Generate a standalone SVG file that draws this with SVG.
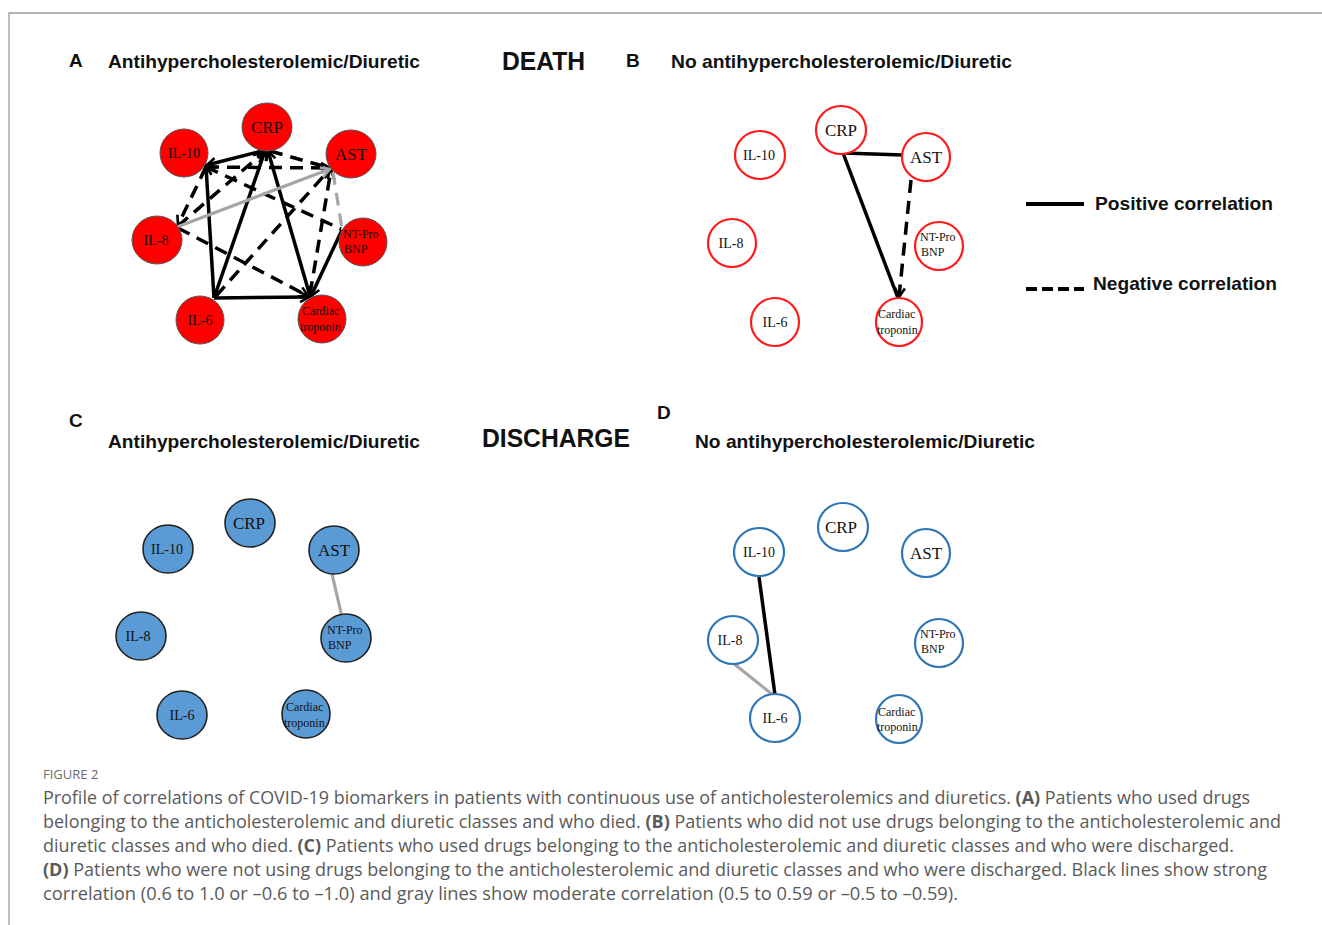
<svg xmlns="http://www.w3.org/2000/svg" width="1322" height="925" viewBox="0 0 1322 925">
<style>
.hd{font-family:"Liberation Sans",Arial,sans-serif;font-weight:bold;fill:#111}
.lbl{font-family:"Liberation Serif","Times New Roman",serif;fill:#111}
.red{fill:#ff0000;stroke:#555;stroke-width:1}
.redo{fill:#fff;stroke:#ff1a1a;stroke-width:2.2}
.blu{fill:#5b9bd5;stroke:#222;stroke-width:1.6}
.bluo{fill:#fff;stroke:#2e75b6;stroke-width:2.2}
.s{stroke:#000;stroke-width:3.5;fill:none}
.d{stroke:#000;stroke-width:3.5;fill:none;stroke-dasharray:13 8}
.g{stroke:#a6a6a6;stroke-width:3.2;fill:none}
.gd{stroke:#a6a6a6;stroke-width:3.2;fill:none;stroke-dasharray:13 8}
.cap{font-family:"Open Sans","Noto Sans",sans-serif;fill:#5a5a5a;font-size:17.5px}
.fig{font-family:"Open Sans","Noto Sans",sans-serif;fill:#6a6a6a;font-size:13px}
</style>
<defs>
<marker id="ak" markerUnits="userSpaceOnUse" markerWidth="14" markerHeight="14" refX="10" refY="6" orient="auto"><path d="M1,1 L10,6 L1,11" fill="none" stroke="#000" stroke-width="2.6"/></marker>
<marker id="ag" markerUnits="userSpaceOnUse" markerWidth="14" markerHeight="14" refX="10" refY="6" orient="auto"><path d="M1,1 L10,6 L1,11" fill="none" stroke="#a6a6a6" stroke-width="2.6"/></marker>
</defs>
<rect width="1322" height="925" fill="#fff"/>
<path d="M9,925 V13 H1322" fill="none" stroke="#9a9a9a" stroke-width="1.3"/>

<g id="titles">
<text class="hd" x="69" y="67" font-size="19">A</text>
<text class="hd" x="108" y="68" font-size="19" textLength="312" lengthAdjust="spacingAndGlyphs">Antihypercholesterolemic/Diuretic</text>
<text class="hd" x="502" y="70" font-size="25" textLength="83" lengthAdjust="spacingAndGlyphs">DEATH</text>
<text class="hd" x="626" y="67" font-size="19">B</text>
<text class="hd" x="671" y="68" font-size="19" textLength="341" lengthAdjust="spacingAndGlyphs">No antihypercholesterolemic/Diuretic</text>
<text class="hd" x="69" y="427" font-size="19">C</text>
<text class="hd" x="108" y="448" font-size="19" textLength="312" lengthAdjust="spacingAndGlyphs">Antihypercholesterolemic/Diuretic</text>
<text class="hd" x="482" y="447" font-size="25" textLength="148" lengthAdjust="spacingAndGlyphs">DISCHARGE</text>
<text class="hd" x="657" y="419" font-size="19">D</text>
<text class="hd" x="695" y="448" font-size="19" textLength="340" lengthAdjust="spacingAndGlyphs">No antihypercholesterolemic/Diuretic</text>
</g>

<g id="legend">
<line x1="1026" y1="204" x2="1084" y2="204" stroke="#000" stroke-width="4"/>
<text class="hd" x="1095" y="210" font-size="18.5" textLength="178" lengthAdjust="spacingAndGlyphs">Positive correlation</text>
<line x1="1026" y1="289" x2="1084" y2="289" stroke="#000" stroke-width="4" stroke-dasharray="11 5"/>
<text class="hd" x="1093" y="290" font-size="18.5" textLength="184" lengthAdjust="spacingAndGlyphs">Negative correlation</text>
</g>

<g id="connectors">
<!-- Panel A -->
<line class="s" x1="266" y1="150" x2="207" y2="165" marker-end="url(#ak)"/>
<line class="s" x1="214" y1="298" x2="206" y2="166" marker-end="url(#ak)"/>
<line class="s" x1="214" y1="298" x2="265" y2="151" marker-end="url(#ak)"/>
<line class="s" x1="214" y1="298" x2="309" y2="297" marker-end="url(#ak)"/>
<line class="s" x1="310" y1="296" x2="268" y2="151" marker-end="url(#ak)"/>
<line class="s" x1="342" y1="230" x2="311" y2="296" marker-end="url(#ak)"/>
<line class="d" x1="206" y1="167" x2="330" y2="168" marker-end="url(#ak)"/>
<line class="d" x1="270" y1="151" x2="330" y2="168"/>
<line class="d" x1="206" y1="167" x2="178" y2="225" marker-end="url(#ak)"/>
<line class="d" x1="178" y1="226" x2="263" y2="153" marker-end="url(#ak)"/>
<line class="d" x1="178" y1="228" x2="308" y2="296" marker-end="url(#ak)"/>
<line class="d" x1="206" y1="167" x2="341" y2="229"/>
<line class="d" x1="216" y1="296" x2="330" y2="169" marker-end="url(#ak)"/>
<line class="d" x1="310" y1="294" x2="331" y2="170" marker-end="url(#ak)"/>
<line class="gd" x1="333" y1="172" x2="342" y2="229"/>
<line class="g" x1="177" y1="227" x2="330" y2="169" marker-end="url(#ag)"/>
<!-- Panel B -->
<line class="s" x1="843" y1="153" x2="903" y2="155"/>
<line class="s" x1="843" y1="153" x2="898" y2="298"/>
<line class="d" x1="911" y1="180" x2="899" y2="297" marker-end="url(#ak)"/>
<!-- Panel C -->
<line class="g" x1="332" y1="574" x2="342" y2="617"/>
<!-- Panel D -->
<line class="s" x1="759" y1="577" x2="775" y2="695"/>
<line class="g" x1="733" y1="663" x2="773" y2="695"/>
</g>

<g id="A-CRP"><ellipse class="red" cx="267" cy="127" rx="25" ry="24"/><text class="lbl" x="267" y="133" font-size="17" text-anchor="middle">CRP</text></g>
<g id="A-IL10"><ellipse class="red" cx="184" cy="153" rx="24" ry="24"/><text class="lbl" x="184" y="158" font-size="14" text-anchor="middle">IL-10</text></g>
<g id="A-AST"><ellipse class="red" cx="351" cy="154" rx="25" ry="24"/><text class="lbl" x="351" y="160" font-size="17" text-anchor="middle">AST</text></g>
<g id="A-IL8"><ellipse class="red" cx="157" cy="240" rx="25" ry="24"/><text class="lbl" x="156" y="245" font-size="14" text-anchor="middle">IL-8</text></g>
<g id="A-NTPro"><ellipse class="red" cx="363" cy="242" rx="24" ry="24"/><text class="lbl" x="343" y="238" font-size="12">NT-Pro</text><text class="lbl" x="344" y="253" font-size="12">BNP</text></g>
<g id="A-IL6"><ellipse class="red" cx="200" cy="320" rx="24" ry="24"/><text class="lbl" x="200" y="325" font-size="14" text-anchor="middle">IL-6</text></g>
<g id="A-CT"><ellipse class="red" cx="322" cy="319" rx="24" ry="24"/><text class="lbl" x="302" y="315" font-size="12">Cardiac</text><text class="lbl" x="300" y="331" font-size="12">troponin</text></g>

<g id="B-CRP"><ellipse class="redo" cx="841" cy="130" rx="25" ry="24"/><text class="lbl" x="841" y="136" font-size="17" text-anchor="middle">CRP</text></g>
<g id="B-IL10"><ellipse class="redo" cx="760" cy="155" rx="25" ry="24"/><text class="lbl" x="759" y="160" font-size="14" text-anchor="middle">IL-10</text></g>
<g id="B-AST"><ellipse class="redo" cx="926" cy="157" rx="24" ry="24"/><text class="lbl" x="926" y="163" font-size="17" text-anchor="middle">AST</text></g>
<g id="B-IL8"><ellipse class="redo" cx="732" cy="243" rx="24" ry="24"/><text class="lbl" x="731" y="248" font-size="14" text-anchor="middle">IL-8</text></g>
<g id="B-NTPro"><ellipse class="redo" cx="939" cy="246" rx="24" ry="24"/><text class="lbl" x="920" y="241" font-size="12">NT-Pro</text><text class="lbl" x="921" y="256" font-size="12">BNP</text></g>
<g id="B-IL6"><ellipse class="redo" cx="775" cy="322" rx="24" ry="24"/><text class="lbl" x="775" y="327" font-size="14" text-anchor="middle">IL-6</text></g>
<g id="B-CT"><ellipse class="redo" cx="899" cy="322" rx="23" ry="24"/><text class="lbl" x="878" y="318" font-size="12">Cardiac</text><text class="lbl" x="877" y="334" font-size="12">troponin</text></g>

<g id="C-CRP"><ellipse class="blu" cx="250" cy="523" rx="25" ry="24"/><text class="lbl" x="249" y="529" font-size="17" text-anchor="middle">CRP</text></g>
<g id="C-IL10"><ellipse class="blu" cx="168" cy="549" rx="25" ry="24"/><text class="lbl" x="167" y="554" font-size="14" text-anchor="middle">IL-10</text></g>
<g id="C-AST"><ellipse class="blu" cx="334" cy="550" rx="25" ry="24"/><text class="lbl" x="334" y="556" font-size="17" text-anchor="middle">AST</text></g>
<g id="C-IL8"><ellipse class="blu" cx="141" cy="636" rx="25" ry="24"/><text class="lbl" x="138" y="641" font-size="14" text-anchor="middle">IL-8</text></g>
<g id="C-NTPro"><ellipse class="blu" cx="346" cy="638" rx="25" ry="24"/><text class="lbl" x="327" y="634" font-size="12">NT-Pro</text><text class="lbl" x="328" y="649" font-size="12">BNP</text></g>
<g id="C-IL6"><ellipse class="blu" cx="182" cy="715" rx="25" ry="24"/><text class="lbl" x="182" y="720" font-size="14" text-anchor="middle">IL-6</text></g>
<g id="C-CT"><ellipse class="blu" cx="306" cy="714" rx="24" ry="24"/><text class="lbl" x="286" y="711" font-size="12">Cardiac</text><text class="lbl" x="284" y="727" font-size="12">troponin</text></g>

<g id="D-CRP"><ellipse class="bluo" cx="843" cy="527" rx="25" ry="24"/><text class="lbl" x="841" y="533" font-size="17" text-anchor="middle">CRP</text></g>
<g id="D-IL10"><ellipse class="bluo" cx="759" cy="552" rx="25" ry="24"/><text class="lbl" x="759" y="557" font-size="14" text-anchor="middle">IL-10</text></g>
<g id="D-AST"><ellipse class="bluo" cx="926" cy="553" rx="24" ry="24"/><text class="lbl" x="926" y="559" font-size="17" text-anchor="middle">AST</text></g>
<g id="D-IL8"><ellipse class="bluo" cx="733" cy="640" rx="25" ry="24"/><text class="lbl" x="730" y="645" font-size="14" text-anchor="middle">IL-8</text></g>
<g id="D-NTPro"><ellipse class="bluo" cx="939" cy="643" rx="24" ry="24"/><text class="lbl" x="920" y="638" font-size="12">NT-Pro</text><text class="lbl" x="921" y="653" font-size="12">BNP</text></g>
<g id="D-IL6"><ellipse class="bluo" cx="775" cy="718" rx="25" ry="24"/><text class="lbl" x="775" y="723" font-size="14" text-anchor="middle">IL-6</text></g>
<g id="D-CT"><ellipse class="bluo" cx="899" cy="719" rx="23" ry="24"/><text class="lbl" x="878" y="716" font-size="12">Cardiac</text><text class="lbl" x="877" y="731" font-size="12">troponin</text></g>

<g id="caption">
<text class="fig" x="43" y="779">FIGURE 2</text>
<text class="cap" x="43" y="804" textLength="1207" lengthAdjust="spacingAndGlyphs">Profile of correlations of COVID-19 biomarkers in patients with continuous use of anticholesterolemics and diuretics. <tspan font-weight="bold">(A)</tspan> Patients who used drugs</text>
<text class="cap" x="43" y="828" textLength="1238" lengthAdjust="spacingAndGlyphs">belonging to the anticholesterolemic and diuretic classes and who died. <tspan font-weight="bold">(B)</tspan> Patients who did not use drugs belonging to the anticholesterolemic and</text>
<text class="cap" x="43" y="852" textLength="1191" lengthAdjust="spacingAndGlyphs">diuretic classes and who died. <tspan font-weight="bold">(C)</tspan> Patients who used drugs belonging to the anticholesterolemic and diuretic classes and who were discharged.</text>
<text class="cap" x="43" y="876" textLength="1224" lengthAdjust="spacingAndGlyphs"><tspan font-weight="bold">(D)</tspan> Patients who were not using drugs belonging to the anticholesterolemic and diuretic classes and who were discharged. Black lines show strong</text>
<text class="cap" x="43" y="900" textLength="915" lengthAdjust="spacingAndGlyphs">correlation (0.6 to 1.0 or –0.6 to –1.0) and gray lines show moderate correlation (0.5 to 0.59 or –0.5 to –0.59).</text>
</g>
</svg>
